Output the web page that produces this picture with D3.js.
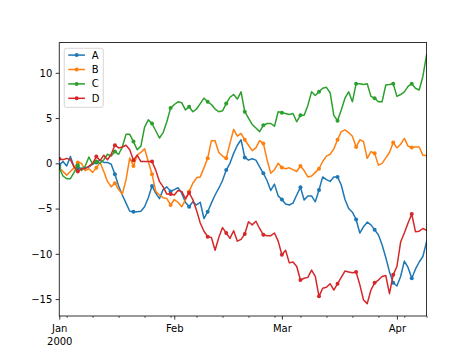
<!DOCTYPE html>
<html>
<head>
<meta charset="utf-8">
<script src="https://cdn.jsdelivr.net/npm/d3@7"></script>
<style>
  html, body { margin: 0; padding: 0; background: #fff; }
  svg { display: block; font-family: "DejaVu Sans", sans-serif; }
</style>
</head>
<body>
<svg id="chart" width="474" height="355"></svg>
<script>
// ---- data ----
const startDate = "2000-01-01";
const seriesNames = ["A", "B", "C", "D"];
const seriesColors = ["#1f77b4", "#ff7f0e", "#2ca02c", "#d62728"];

const A = [-0.2, 0.2, -0.3, 0.75, -0.4, -0.55, -0.55, -0.5, -0.4, -0.1,
  0.1, 0.35, 0.1, 0.1, -0.1, -1.2, -2.5, -3.5, -4.4, -5.3,
  -5.35, -5.35, -5.3, -4.8, -3.8, -2.5, -3.3, -3.9, -2.9, -2.6,
  -3.1, -2.9, -2.7, -3.3, -4.3, -4.8, -4.25, -4.6, -4.3, -6.1,
  -5.35, -4.4, -3.5, -2.75, -1.9, -0.75, 0.0, 1.1, 2.0, 2.6,
  0.65, 0.35, 0.5, 0.35, -0.4, -1.1, -1.9, -3.0, -2.3, -3.6,
  -4.0, -4.5, -4.6, -4.4, -3.5, -2.65, -4.05, -3.6, -3.6, -4.25,
  -2.95, -1.5, -1.8, -2.0, -1.5, -1.5, -2.4, -4.0, -5.0, -5.4,
  -6.2, -7.7, -7.0, -6.5, -6.8, -7.35, -7.9, -9.0, -10.4, -12.0,
  -13.2, -13.55, -12.5, -10.8, -11.5, -12.7, -11.7, -10.9, -10.3, -8.65];

const B = [-0.5, -0.9, -1.3, -0.9, -0.5, 0.1, 0.0, -0.8, -0.6, -1.0,
  -0.5, 0.1, -0.9, -2.0, -2.6, -2.2, -2.9, -3.4, -1.8, 0.6,
  -0.3, 0.9, 1.2, 1.6, 0.2, -1.2, -3.1, -3.5, -3.8, -3.9,
  -4.6, -4.0, -4.3, -4.8, -4.05, -3.1, -2.2, -1.6, -1.5, -0.5,
  0.55, 2.5, 2.5, 1.2, 0.8, 0.55, 2.2, 3.75, 3.0, 3.3,
  2.6, 2.0, 1.4, 1.7, 2.5, 2.2, 0.4, -1.1, -0.7, 0.0,
  -0.45, -0.6, -0.5, -0.7, -0.9, -0.3, -0.8, -1.5, -1.4, -1.0,
  -0.6, 0.2, 0.8, 1.0, 1.6, 2.6, 3.5, 3.7, 3.4, 3.0,
  1.8, 2.6, 2.4, 0.55, 1.3, 1.1, -0.2, 0.0, 0.6, 1.2,
  2.3, 1.7, 2.1, 2.75, 1.9, 1.75, 1.8, 1.8, 0.9, 0.85];

const C = [-0.5, -1.4, -1.7, -1.7, -1.0, -0.2, -0.8, -0.3, 0.7, -0.1,
  0.2, 0.0, 0.4, 1.0, 0.8, 1.3, 1.0, 1.8, 3.2, 3.2,
  2.4, 1.5, 1.9, 4.0, 4.8, 4.4, 3.6, 2.8, 3.4, 4.6,
  6.1, 6.5, 6.8, 6.7, 5.9, 6.25, 5.7, 6.0, 6.6, 7.2,
  6.8, 6.5, 6.0, 5.7, 5.8, 6.6, 7.3, 7.6, 7.1, 7.9,
  5.7, 5.0, 4.3, 3.9, 3.5, 4.2, 4.4, 4.4, 4.1, 5.7,
  5.6, 5.5, 5.4, 5.5, 4.6, 5.3, 5.3, 6.4, 7.9, 7.5,
  7.9, 8.3, 8.4, 7.8, 5.3, 4.7, 5.9, 7.2, 7.9, 6.8,
  8.8, 8.8, 8.7, 8.8, 7.4, 7.2, 6.8, 6.8, 8.65, 8.7,
  8.8, 7.4, 7.6, 7.9, 8.5, 8.8, 8.3, 8.1, 9.6, 12.0];

const D = [0.5, 0.4, 0.55, 0.4, -0.4, -0.9, -0.6, -0.6, -0.3, 0.0,
  0.75, 0.3, 0.9, 0.4, 1.0, 2.0, 1.7, 1.8, 2.0, 1.5,
  0.35, 0.9, 0.2, 0.2, 0.2, 0.2, -0.75, -2.0, -2.6, -3.4,
  -3.4, -3.5, -3.0, -3.1, -3.9, -3.25, -4.0, -5.2, -6.6, -7.5,
  -8.1, -8.2, -9.6, -8.2, -7.1, -7.7, -8.3, -7.45, -8.6, -8.4,
  -7.8, -6.45, -6.8, -6.4, -7.2, -7.9, -8.0, -8.0, -7.7, -8.6,
  -10.1, -9.6, -11.0, -10.9, -11.4, -12.9, -12.7, -12.6, -11.8, -12.5,
  -14.7, -13.8, -13.7, -13.3, -14.0, -13.3, -12.6, -11.9, -12.0, -12.1,
  -12.0, -13.4, -15.1, -15.5, -14.0, -13.2, -12.9, -12.5, -12.4, -14.4,
  -12.3, -11.4, -8.7, -7.7, -6.6, -5.6, -7.55, -7.5, -7.2, -7.4];

const yDomain = [-16.87, 13.34];
const yTicks = [-15, -10, -5, 0, 5, 10];
const majorTickDates = ["2000-01-01", "2000-02-01", "2000-03-01", "2000-04-01"];
const majorTickLabels = ["Jan\n2000", "Feb", "Mar", "Apr"];
const minorTickDates = ["2000-01-03", "2000-01-10", "2000-01-17", "2000-01-24", "2000-01-31",
  "2000-02-07", "2000-02-14", "2000-02-21", "2000-02-28", "2000-03-06", "2000-03-13",
  "2000-03-20", "2000-03-27", "2000-04-03", "2000-04-09"];
const markEvery = 5;

// ---- layout ----
const W = 474, H = 355;
const mLeft = 59.25, mRight = 426.6, mTop = 42.6, mBottom = 316;
const fontSize = 10;

const svg = d3.select("#chart");
const parse = d3.utcParse("%Y-%m-%d");
const start = parse(startDate);
const allSeries = [A, B, C, D];
const dates = A.map((_, i) => d3.utcDay.offset(start, i));

const x = d3.scaleUtc().domain([dates[0], dates[dates.length - 1]]).range([mLeft, mRight]);
const y = d3.scaleLinear().domain(yDomain).range([mBottom, mTop]);

svg.append("rect").attr("width", W).attr("height", H).attr("fill", "#fff");

svg.append("clipPath").attr("id", "clip")
  .append("rect").attr("x", mLeft).attr("y", mTop).attr("width", mRight - mLeft).attr("height", mBottom - mTop);

const plot = svg.append("g").attr("clip-path", "url(#clip)");
const line = d3.line().x((d, i) => x(dates[i])).y(d => y(d));

allSeries.forEach((s, k) => {
  plot.append("path")
    .datum(s)
    .attr("d", line)
    .attr("fill", "none")
    .attr("stroke", seriesColors[k])
    .attr("stroke-width", 1.5)
    .attr("stroke-linejoin", "round")
    .attr("stroke-linecap", "square");
  plot.selectAll(null)
    .data(s.map((v, i) => ({ v, i })).filter(d => d.i % markEvery === 0))
    .enter().append("circle")
    .attr("cx", d => x(dates[d.i]))
    .attr("cy", d => y(d.v))
    .attr("r", 2)
    .attr("fill", seriesColors[k]);
});

// axes
const yAxis = d3.axisLeft(y).tickValues(yTicks).tickSize(3.6).tickPadding(3.4)
  .tickFormat(d => d3.format("d")(d).replace("-", "\u2212").replace("\u2212", "\u2212"));
const gy = svg.append("g").attr("transform", `translate(${mLeft},0)`).call(yAxis);
gy.select(".domain").remove();
gy.selectAll("text").attr("font-size", fontSize).attr("fill", "#000")
  .attr("font-family", "DejaVu Sans");
gy.selectAll("line").attr("stroke", "#000").attr("stroke-width", 0.8);

const xMinor = d3.axisBottom(x).tickValues(minorTickDates.map(parse)).tickSize(2).tickFormat("");
const gxm = svg.append("g").attr("transform", `translate(0,${mBottom})`).call(xMinor);
gxm.select(".domain").remove();
gxm.selectAll("line").attr("stroke", "#000").attr("stroke-width", 0.6);

const xMajor = d3.axisBottom(x).tickValues(majorTickDates.map(parse)).tickSize(3.6).tickPadding(3.4)
  .tickFormat("");
const gx = svg.append("g").attr("transform", `translate(0,${mBottom})`).call(xMajor);
gx.select(".domain").remove();
gx.selectAll("line").attr("stroke", "#000").attr("stroke-width", 0.8);
gx.selectAll(".tick").each(function (d, i) {
  const t = d3.select(this).append("text")
    .attr("fill", "#000").attr("font-size", fontSize).attr("text-anchor", "middle")
    .attr("font-family", "DejaVu Sans");
  majorTickLabels[i].split("\n").forEach((ln, j) => {
    t.append("tspan").attr("x", 0).attr("y", 15.5 + j * 13.5).text(ln);
  });
});

// frame
svg.append("rect").attr("x", mLeft).attr("y", mTop).attr("width", mRight - mLeft).attr("height", mBottom - mTop)
  .attr("fill", "none").attr("stroke", "#000").attr("stroke-width", 0.8);

// legend
const lg = svg.append("g").attr("transform", `translate(${mLeft + 5},${mTop + 5.7})`);
lg.append("rect").attr("x", 0).attr("y", 0).attr("width", 39).attr("height", 59)
  .attr("rx", 2).attr("fill", "#fff").attr("fill-opacity", 0.8)
  .attr("stroke", "#cccccc").attr("stroke-width", 0.8);
seriesNames.forEach((name, k) => {
  const cy = 6.8 + k * 14.4;
  lg.append("line").attr("x1", 4).attr("x2", 20.7).attr("y1", cy).attr("y2", cy)
    .attr("stroke", seriesColors[k]).attr("stroke-width", 1.5);
  lg.append("circle").attr("cx", 12.4).attr("cy", cy).attr("r", 2).attr("fill", seriesColors[k]);
  lg.append("text").attr("x", 27.4).attr("y", cy + 3.6).attr("font-size", fontSize)
    .attr("fill", "#000").text(name);
});
</script>
</body>
</html>
